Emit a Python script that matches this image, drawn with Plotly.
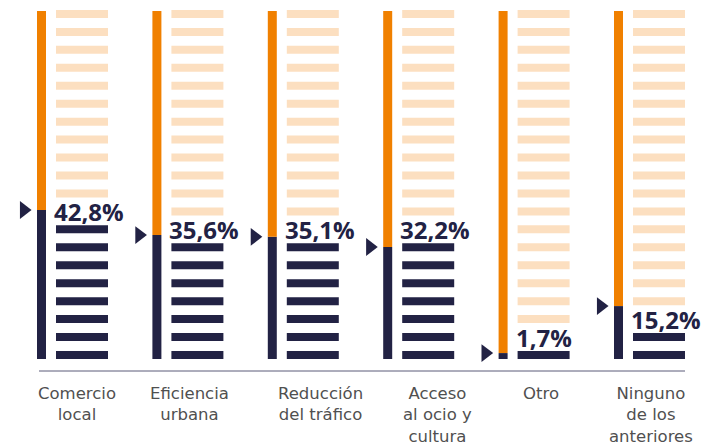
import plotly.graph_objects as go

# ---- data ----
categories = ["Comercio<br>local", "Eficiencia<br>urbana", "Reducción<br>del tráfico",
              "Acceso<br>al ocio y<br>cultura", "Otro", "Ninguno<br>de los<br>anteriores"]
values = [42.8, 35.6, 35.1, 32.2, 1.7, 15.2]          # percentage per category
filled_units = [8, 7, 7, 7, 1, 2]                      # dark dashes in each icon column
N_UNITS = 20                                           # dashes per column

# ---- styling ----
NAVY = "#222244"
ORANGE = "#F08000"
PEACH = "#FCDFC0"
TEXT_GREY = "#505050"
FIG_W, FIG_H = 705, 439   # page body keeps an 8px margin
ORIGIN_X = 29             # px of first bar's left edge inside the figure
ORIGIN_Y = 351            # px of the 0% baseline inside the figure
PX_PER_X = 115.4          # pixels per category step
PX_PER_Y = 3.48           # pixels per percentage point
BAR_W = 9 / PX_PER_X
DASH_OFF = 19 / PX_PER_X
DASH_W = 52 / PX_PER_X
DASH_H = 8 / PX_PER_Y
UNIT_STEP = 17.95 / PX_PER_Y
TRI_OFF = -13.2 / PX_PER_X
LABEL_NUDGE = [4, 2, 17, 19, 7, 1]   # px shift of category labels

idx = list(range(len(categories)))

fig = go.Figure()

# vertical bar: navy up to value, orange above
fig.add_trace(go.Bar(x=idx, y=values, base=[0] * len(values), width=BAR_W, offset=0,
                     marker=dict(color=NAVY, line=dict(width=0)), hoverinfo="skip"))
fig.add_trace(go.Bar(x=idx, y=[100 - v for v in values], base=values, width=BAR_W, offset=0,
                     marker=dict(color=ORANGE, line=dict(width=0)), hoverinfo="skip"))

# icon columns of dashes
nx, nb, px_, pb = [], [], [], []
for i, n in zip(idx, filled_units):
    for k in range(N_UNITS):
        if k < n:
            nx.append(i); nb.append(k * UNIT_STEP)
        elif k > n:
            px_.append(i); pb.append(k * UNIT_STEP)
fig.add_trace(go.Bar(x=px_, y=[DASH_H] * len(px_), base=pb, width=DASH_W, offset=DASH_OFF,
                     marker=dict(color=PEACH, line=dict(width=0)), hoverinfo="skip"))
fig.add_trace(go.Bar(x=nx, y=[DASH_H] * len(nx), base=nb, width=DASH_W, offset=DASH_OFF,
                     marker=dict(color=NAVY, line=dict(width=0)), hoverinfo="skip"))

# pointer triangles
fig.add_trace(go.Scatter(x=[i + TRI_OFF for i in idx], y=values, mode="markers",
                         marker=dict(symbol="triangle-right", size=15.5, color=NAVY, line=dict(width=0)),
                         hoverinfo="skip"))

annotations = []
for i, v, n in zip(idx, values, filled_units):
    annotations.append(dict(
        x=i + DASH_OFF, y=n * UNIT_STEP + DASH_H / 2, xref="x", yref="y",
        text="<b>" + f"{v:.1f}".replace(".", ",") + "%</b>",
        showarrow=False, xanchor="left", yanchor="middle", xshift=-4, yshift=0,
        font=dict(family="Open Sans", size=24, color=NAVY)))
for i, c, dx in zip(idx, categories, LABEL_NUDGE):
    annotations.append(dict(
        x=i + (DASH_OFF + DASH_W) / 2, y=-6.6, xref="x", yref="y", text=c,
        showarrow=False, xanchor="center", yanchor="top", align="center", xshift=dx,
        font=dict(family="DejaVu Sans", size=16.5, color=TEXT_GREY)))

fig.update_layout(
    width=FIG_W, height=FIG_H, autosize=False,
    margin=dict(l=0, r=0, t=0, b=0),
    paper_bgcolor="white", plot_bgcolor="white",
    barmode="overlay", showlegend=False,
    xaxis=dict(range=[-ORIGIN_X / PX_PER_X, (FIG_W - ORIGIN_X) / PX_PER_X], visible=False, fixedrange=True),
    yaxis=dict(range=[-(FIG_H - ORIGIN_Y) / PX_PER_Y, ORIGIN_Y / PX_PER_Y], visible=False, fixedrange=True),
    annotations=annotations,
    shapes=[dict(type="line", xref="x", yref="y", x0=2 / PX_PER_X, x1=5 + DASH_OFF + DASH_W,
                 y0=-12 / PX_PER_Y, y1=-12 / PX_PER_Y, line=dict(color="#5a5a78", width=1))],
)

fig.write_html("out.html", config={"displayModeBar": False})
